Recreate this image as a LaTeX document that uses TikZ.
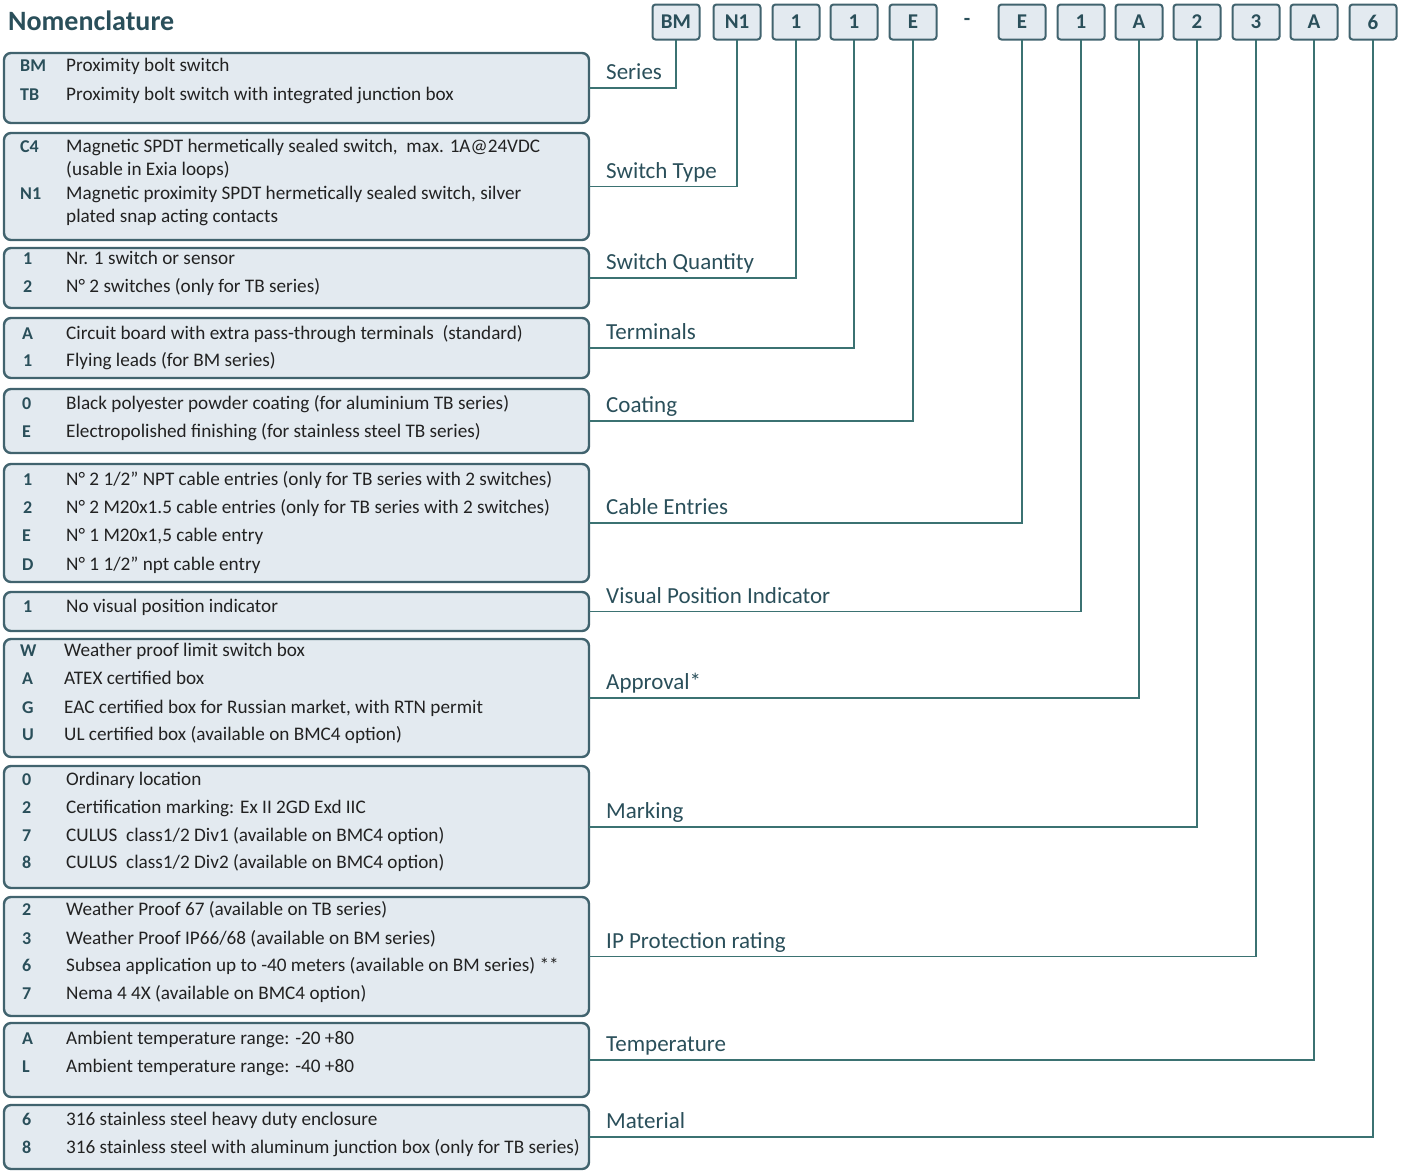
\documentclass[tikz,border=0pt]{standalone}
\usepackage{fontspec}
\setmainfont{Carlito}
\usetikzlibrary{positioning}
\definecolor{boxfill}{HTML}{E3EAF0}
\definecolor{boxline}{HTML}{41636E}
\definecolor{linkline}{HTML}{3B7272}
\definecolor{tagtext}{HTML}{2A4F5A}
\definecolor{desctext}{HTML}{222222}

\begin{document}
\begin{tikzpicture}[
  x=1pt, y=-1pt,
  option box/.style={
    rectangle,
    rounded corners=7pt,
    fill=boxfill,
    draw=boxline,
    line width=2.4pt,
    minimum width=585pt,
    outer sep=0pt
  },
  code box/.style={
    rectangle,
    rounded corners=3pt,
    fill=boxfill,
    draw=boxline,
    line width=2pt,
    minimum height=35pt, minimum width=47pt,
    font=\fontsize{21}{21}\selectfont\bfseries,
    text=tagtext,
    outer sep=0pt
  },
  code/.style={
    anchor=west, inner sep=0pt,
    font=\fontsize{18}{18}\selectfont\bfseries,
    text=tagtext, text height=12pt, text depth=4pt
  },
  desc/.style={
    anchor=west, inner sep=0pt,
    font=\fontsize{19.2}{19.2}\selectfont,
    text=desctext, text height=12pt, text depth=4pt
  },
  tag/.style={
    inner sep=0pt,
    font=\fontsize{23}{23}\selectfont,
    text=tagtext, text height=16pt, text depth=5pt
  },
  link/.style={
    draw=linkline,
    line width=1.5pt
  }
  ]
\useasboundingbox (0,0) rectangle (1404,1171);
% Title
\node [anchor=west, inner sep=0pt, font=\fontsize{28}{28}\selectfont\bfseries, text=tagtext] (title) at (8,21) {Nomenclature};
% Code
\node [code box] (series code) at (676,22) {BM};
\node [code box] (type code) at (737,22) {N1};
\node [code box] (qty code) at (796,22) {1};
\node [code box] (term code) at (854,22) {1};
\node [code box] (coat code) at (913,22) {E};
\node [text=tagtext, font=\fontsize{21}{21}\selectfont\bfseries] (code dash) at (967,22) {-};
\node [code box] (entry code) at (1022,22) {E};
\node [code box] (visual code) at (1081,22) {1};
\node [code box] (approval code) at (1139,22) {A};
\node [code box] (marking code) at (1197,22) {2};
\node [code box] (ip code) at (1256,22) {3};
\node [code box] (temp code) at (1314,22) {A};
\node [code box] (material code) at (1373,22) {6};
% Series
\node [option box, minimum height=70pt] (series box) at (296.5,88) {};
\node [code] (series bm) at (20,67) {BM};
\node [desc] (series bm text) at (66,67) {Proximity bolt switch};
\node [code] (series tb) at (20,96) {TB};
\node [desc] (series tb text) at (66,96) {Proximity bolt switch with integrated junction box};
\node [tag, above right=3pt and 17pt of series box.east, anchor=south west] (series tag) {Series};
\draw [link] (series code.south) |- (series box.east);
% Switch Type
\node [option box, minimum height=107pt] (type box) at (296.5,186.5) {};
\node [code] (type c4) at (20,148) {C4};
\node [desc] (type c4 text) at (66,148) {Magnetic SPDT hermetically sealed switch,\ \ max. 1A@24VDC};
\node [desc] (type c4 more) at (66,171) {(usable in Exia loops)};
\node [code] (type n1) at (20,195) {N1};
\node [desc] (type n1 text) at (66,195) {Magnetic proximity SPDT hermetically sealed switch, silver};
\node [desc] (type n1 more) at (66,218) {plated snap acting contacts};
\node [tag, above right=3pt and 17pt of type box.east, anchor=south west] (type tag) {Switch Type};
\draw [link] (type code.south) |- (type box.east);
% Switch Quantity
\node [option box, minimum height=60pt] (qty box) at (296.5,278) {};
\node [code] (qty one) at (23,260) {1};
\node [desc] (qty one text) at (66,260) {Nr. 1 switch or sensor};
\node [code] (qty two) at (23,288) {2};
\node [desc] (qty two text) at (66,288) {N° 2 switches (only for TB series)};
\node [tag, above right=3pt and 17pt of qty box.east, anchor=south west] (qty tag) {Switch Quantity};
\draw [link] (qty code.south) |- (qty box.east);
% Terminals
\node [option box, minimum height=60pt] (term box) at (296.5,348) {};
\node [code] (term a) at (22,335) {A};
\node [desc] (term a text) at (66,335) {Circuit board with extra pass-through terminals\ \ (standard)};
\node [code] (term one) at (23,362) {1};
\node [desc] (term one text) at (66,362) {Flying leads (for BM series)};
\node [tag, above right=3pt and 17pt of term box.east, anchor=south west] (term tag) {Terminals};
\draw [link] (term code.south) |- (term box.east);
% Coating
\node [option box, minimum height=64pt] (coat box) at (296.5,421) {};
\node [code] (coat zero) at (22,405) {0};
\node [desc] (coat zero text) at (66,405) {Black polyester powder coating (for aluminium TB series)};
\node [code] (coat e) at (22,433) {E};
\node [desc] (coat e text) at (66,433) {Electropolished finishing (for stainless steel TB series)};
\node [tag, above right=3pt and 17pt of coat box.east, anchor=south west] (coat tag) {Coating};
\draw [link] (coat code.south) |- (coat box.east);
% Cable Entries
\node [option box, minimum height=118pt] (entry box) at (296.5,523) {};
\node [code] (entry one) at (23,481) {1};
\node [desc] (entry one text) at (66,481) {N° 2 1/2” NPT cable entries (only for TB series with 2 switches)};
\node [code] (entry two) at (23,509) {2};
\node [desc] (entry two text) at (66,509) {N° 2 M20x1.5 cable entries (only for TB series with 2 switches)};
\node [code] (entry e) at (22,537) {E};
\node [desc] (entry e text) at (66,537) {N° 1 M20x1,5 cable entry};
\node [code] (entry d) at (22,566) {D};
\node [desc] (entry d text) at (66,566) {N° 1 1/2” npt cable entry};
\node [tag, above right=3pt and 17pt of entry box.east, anchor=south west] (entry tag) {Cable Entries};
\draw [link] (entry code.south) |- (entry box.east);
% Visual Position Indicator
\node [option box, minimum height=39pt] (visual box) at (296.5,611.5) {};
\node [code] (visual one) at (23,608) {1};
\node [desc] (visual one text) at (66,608) {No visual position indicator};
\node [tag, above right=3pt and 17pt of visual box.east, anchor=south west] (visual tag) {Visual Position Indicator};
\draw [link] (visual code.south) |- (visual box.east);
% Approval
\node [option box, minimum height=118pt] (approval box) at (296.5,698) {};
\node [code] (approval w) at (20,652) {W};
\node [desc] (approval w text) at (64,652) {Weather proof limit switch box};
\node [code] (approval a) at (22,680) {A};
\node [desc] (approval a text) at (64,680) {ATEX certified box};
\node [code] (approval g) at (22,709) {G};
\node [desc] (approval g text) at (64,709) {EAC certified box for Russian market, with RTN permit};
\node [code] (approval u) at (22,736) {U};
\node [desc] (approval u text) at (64,736) {UL certified box (available on BMC4 option)};
\node [tag, above right=3pt and 17pt of approval box.east, anchor=south west] (approval tag) {Approval*};
\draw [link] (approval code.south) |- (approval box.east);
% Marking
\node [option box, minimum height=122pt] (marking box) at (296.5,827) {};
\node [code] (marking zero) at (22,781) {0};
\node [desc] (marking zero text) at (66,781) {Ordinary location};
\node [code] (marking two) at (22,809) {2};
\node [desc] (marking two text) at (66,809) {Certification marking: Ex II 2GD Exd IIC};
\node [code] (marking seven) at (22,837) {7};
\node [desc] (marking seven text) at (66,837) {CULUS\ \ class1/2 Div1 (available on BMC4 option)};
\node [code] (marking eight) at (22,864) {8};
\node [desc] (marking eight text) at (66,864) {CULUS\ \ class1/2 Div2 (available on BMC4 option)};
\node [tag, above right=3pt and 17pt of marking box.east, anchor=south west] (marking tag) {Marking};
\draw [link] (marking code.south) |- (marking box.east);
% IP Protection rating
\node [option box, minimum height=119pt] (ip box) at (296.5,956.5) {};
\node [code] (ip two) at (22,911) {2};
\node [desc] (ip two text) at (66,911) {Weather Proof 67 (available on TB series)};
\node [code] (ip three) at (22,940) {3};
\node [desc] (ip three text) at (66,940) {Weather Proof IP66/68 (available on BM series)};
\node [code] (ip six) at (22,967) {6};
\node [desc] (ip six text) at (66,967) {Subsea application up to -40 meters (available on BM series) **};
\node [code] (ip seven) at (22,995) {7};
\node [desc] (ip seven text) at (66,995) {Nema 4 4X (available on BMC4 option)};
\node [tag, above right=3pt and 17pt of ip box.east, anchor=south west] (ip tag) {IP Protection rating};
\draw [link] (ip code.south) |- (ip box.east);
% Temperature
\node [option box, minimum height=74pt] (temp box) at (296.5,1060) {};
\node [code] (temp a) at (22,1040) {A};
\node [desc] (temp a text) at (66,1040) {Ambient temperature range: -20 +80};
\node [code] (temp l) at (22,1068) {L};
\node [desc] (temp l text) at (66,1068) {Ambient temperature range: -40 +80};
\node [tag, above right=3pt and 17pt of temp box.east, anchor=south west] (temp tag) {Temperature};
\draw [link] (temp code.south) |- (temp box.east);
% Material
\node [option box, minimum height=64pt] (material box) at (296.5,1137) {};
\node [code] (material six) at (22,1121) {6};
\node [desc] (material six text) at (66,1121) {316 stainless steel heavy duty enclosure};
\node [code] (material eight) at (22,1149) {8};
\node [desc] (material eight text) at (66,1149) {316 stainless steel with aluminum junction box (only for TB series)};
\node [tag, above right=3pt and 17pt of material box.east, anchor=south west] (material tag) {Material};
\draw [link] (material code.south) |- (material box.east);
\end{tikzpicture}
\end{document}
